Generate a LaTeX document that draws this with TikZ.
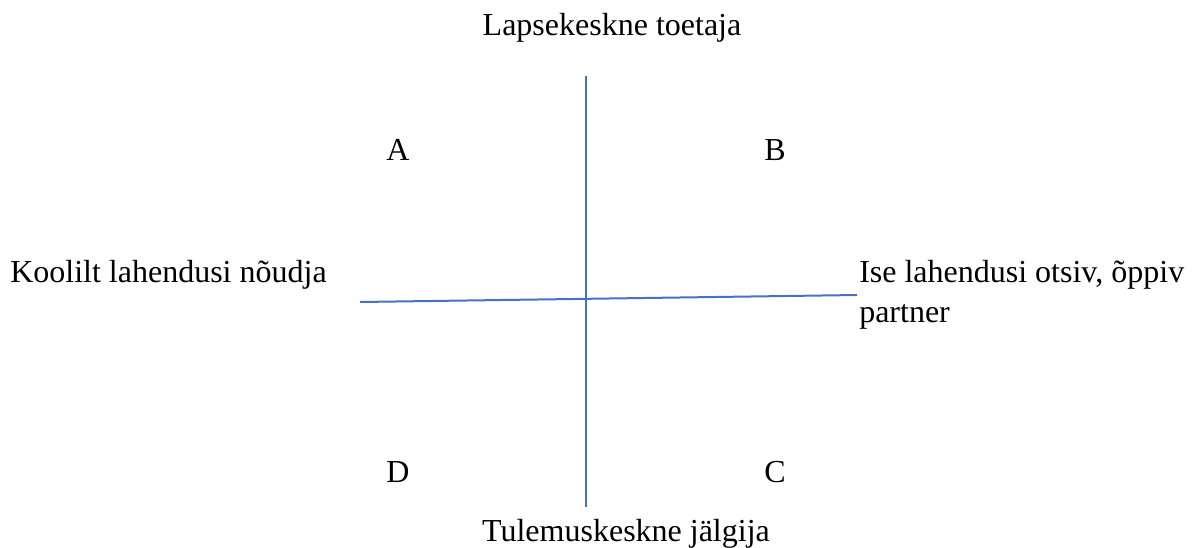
\documentclass[tikz,border=0pt]{standalone}
\usepackage{fontspec}
\setmainfont{Liberation Serif}
\usepackage{tikz}
\definecolor{axisblue}{HTML}{4472C4}
\tikzset{x=0.75pt, y=-0.75pt,
  axis/.style={draw=axisblue, line width=1.5pt},
  lbl/.style={font=\fontsize{24}{30}\selectfont, inner sep=0pt, anchor=base},
  side/.style={lbl, anchor=base west, align=left}}

\begin{document}
\begin{tikzpicture}
\useasboundingbox (0,0) rectangle (1195,547);
% axes
\coordinate (top) at (586,76);
\coordinate (bot) at (586,507);
\coordinate (lft) at (360,302);
\coordinate (rgt) at (857,295);
\draw[axis] (top) -- (bot);
\draw[axis] (lft) -- (rgt);
% axis labels
\node[lbl] (up) at (612,35) {Lapsekeskne toetaja};
\node[lbl] (down) at (626,541) {Tulemuskeskne jälgija};
\node[side] (west) at (10,282) {Koolilt lahendusi nõudja};
\node[side] (east) at (859,322) {Ise lahendusi otsiv, õppiv\\partner};
% quadrants
\node[lbl] (qa) at (398,160) {A};
\node[lbl] (qb) at (775,160) {B};
\node[lbl] (qc) at (775,482) {C};
\node[lbl] (qd) at (398,482) {D};
\end{tikzpicture}
\end{document}
